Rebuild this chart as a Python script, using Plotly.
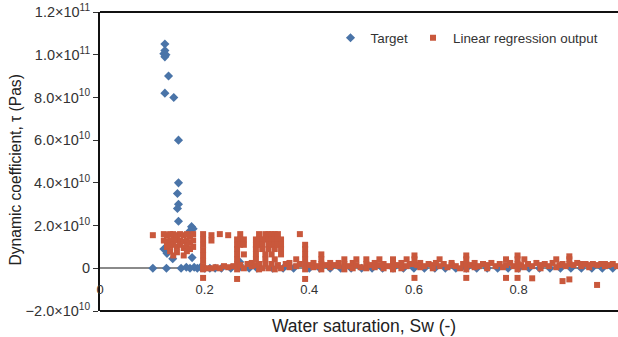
import plotly.graph_objects as go

SCALE = 1e10  # y values below are in units of 1e10 Pa s

# ---- Target (blue diamonds) ----
target_x = [0.124, 0.124, 0.122, 0.126, 0.124, 0.131, 0.124, 0.141, 0.150, 0.150, 0.148, 0.150, 0.148,
            0.150, 0.175, 0.172, 0.178, 0.122, 0.128, 0.139, 0.176,
            0.101, 0.127, 0.155, 0.165, 0.172, 0.180, 0.186, 0.192, 0.200, 0.210, 0.220, 0.232, 0.250,
            0.267, 0.267, 0.267, 0.285, 0.300, 0.330, 0.350, 0.370, 0.400, 0.420, 0.440, 0.460, 0.480,
            0.500, 0.520, 0.540, 0.560, 0.580, 0.600, 0.620, 0.640, 0.660, 0.680, 0.700, 0.720, 0.740,
            0.760, 0.780, 0.800, 0.820, 0.840, 0.860, 0.880, 0.900, 0.920, 0.940, 0.960, 0.980]
target_y = [10.5, 10.2, 10.05, 10.0, 9.9, 9.0, 8.2, 8.0, 6.0, 4.0, 3.5, 3.0, 2.8,
            2.2, 1.95, 1.75, 1.85, 0.9, 0.7, 0.45, 0.5,
            0.0, 0.0, 0.0, 0.05, 0.0, 0.05, 0.0, 0.05, 0.0, 0.0, 0.0, 0.0, 0.0,
            0.3, 0.15, 0.05, 0.0, 0.0, 0.0, 0.0, 0.0, 0.0, 0.0, 0.0, 0.0, 0.0,
            0.0, 0.0, 0.0, 0.0, 0.0, 0.0, 0.0, 0.0, 0.0, 0.0, 0.0, 0.0, 0.0,
            0.0, 0.0, 0.0, 0.0, 0.0, 0.0, 0.0, 0.0, 0.0, 0.0, 0.0, 0.0]

# ---- Linear regression output (red squares): (Sw, [tau values]) ----
pred_columns = [
    (0.101, [1.55]),
    (0.122, [1.6, 1.3]),
    (0.128, [1.55, 1.25, 1.0]),
    (0.134, [1.6, 1.3, 1.05, 0.8]),
    (0.140, [1.6, 1.35, 1.1, 0.6]),
    (0.147, [1.55, 1.3, 1.0, 0.75]),
    (0.153, [1.6, 1.3, 1.1]),
    (0.160, [1.55, 1.25, 0.95, 0.6]),
    (0.166, [1.6, 1.3, 1.05, 0.8]),
    (0.172, [1.5, 1.2, 0.9]),
    (0.178, [1.6, 1.3, 1.0]),
    (0.197, [1.6, 1.35, 1.1, 0.85, 0.6, 0.35, 0.1, -0.05, -0.45]),
    (0.205, [0.0]),
    (0.213, [1.55, 1.3, 0.0]),
    (0.221, [0.05]),
    (0.229, [1.6, 0.0]),
    (0.237, [0.1]),
    (0.245, [1.55, 0.05]),
    (0.255, [0.1]),
    (0.262, [1.35, 1.1, 0.9, 0.65, 0.42, 0.2, -0.05, -0.5]),
    (0.268, [1.6, 1.35, 1.1, 0.15]),
    (0.275, [1.35, 1.1, 0.65, 0.0]),
    (0.282, [0.2]),
    (0.290, [0.1, 0.25]),
    (0.298, [1.35, 1.1, 0.9, 0.65, 0.42, 0.15]),
    (0.304, [1.6, 1.35, 1.1, 0.2, -0.05]),
    (0.310, [1.35, 1.1, 0.9, 0.0]),
    (0.316, [1.6, 1.35, 0.65, 0.42, 0.2]),
    (0.322, [1.6, 1.35, 1.1, 0.9, 0.0]),
    (0.328, [1.6, 1.35, 1.1, 0.65, 0.2]),
    (0.334, [1.6, 1.35, 1.1, 0.9, 0.42, -0.05]),
    (0.340, [1.6, 1.35, 1.1, 0.15]),
    (0.346, [1.35, 1.1, 0.9, 0.65, 0.0]),
    (0.355, [0.2]),
    (0.362, [0.05, 0.25]),
    (0.375, [0.42, 0.1]),
    (0.382, [1.6, 0.2]),
    (0.392, [1.1, 0.9, 0.65, 0.42, 0.2, -0.05, -0.5]),
    (0.400, [0.15]),
    (0.408, [0.05, 0.25]),
    (0.416, [0.1]),
    (0.423, [0.65, 0.42, 0.2, -0.05]),
    (0.431, [0.15]),
    (0.440, [0.05, 0.25]),
    (0.448, [0.15]),
    (0.456, [0.1, 0.25]),
    (0.467, [0.42, 0.2, -0.05]),
    (0.475, [0.1]),
    (0.483, [0.25, 0.0]),
    (0.490, [0.42, 0.15]),
    (0.498, [0.05]),
    (0.509, [0.42, 0.2, 0.0]),
    (0.517, [0.15]),
    (0.525, [0.25, 0.05]),
    (0.534, [0.42, 0.15]),
    (0.542, [0.0, 0.2]),
    (0.550, [0.1]),
    (0.560, [0.42, 0.2, -0.05]),
    (0.568, [0.15]),
    (0.576, [0.25, 0.0]),
    (0.586, [0.42, 0.1]),
    (0.592, [0.2]),
    (0.601, [0.6, 0.42, 0.2, -0.45]),
    (0.606, [0.15]),
    (0.612, [0.05, 0.25]),
    (0.620, [0.1]),
    (0.628, [0.2]),
    (0.636, [0.0, 0.15]),
    (0.642, [0.25]),
    (0.649, [0.42, 0.1]),
    (0.657, [0.2]),
    (0.664, [0.05]),
    (0.672, [0.15, 0.25]),
    (0.680, [0.1]),
    (0.688, [0.0]),
    (0.694, [0.2]),
    (0.700, [0.6, 0.42, 0.2, -0.05, -0.45]),
    (0.708, [0.15]),
    (0.716, [0.05, 0.25]),
    (0.724, [0.1]),
    (0.732, [0.2]),
    (0.740, [0.0, 0.15]),
    (0.748, [0.25]),
    (0.756, [0.1]),
    (0.764, [0.2]),
    (0.770, [0.05]),
    (0.776, [0.42, 0.15, -0.45]),
    (0.784, [0.25]),
    (0.790, [0.1]),
    (0.798, [0.6, 0.42, 0.2, -0.05, -0.45]),
    (0.805, [0.15]),
    (0.811, [0.42, 0.05]),
    (0.818, [0.2]),
    (0.826, [0.1, -0.47]),
    (0.834, [0.25]),
    (0.842, [0.0, 0.15]),
    (0.850, [0.2]),
    (0.858, [0.1]),
    (0.865, [0.25]),
    (0.872, [0.42, 0.05]),
    (0.878, [0.15]),
    (0.884, [0.2, -0.6]),
    (0.890, [0.1]),
    (0.897, [0.56, 0.42, 0.2, -0.52]),
    (0.905, [0.15]),
    (0.912, [0.25]),
    (0.920, [0.1, 0.2]),
    (0.928, [0.2]),
    (0.935, [0.15, 0.05]),
    (0.942, [0.2]),
    (0.950, [0.15, -0.78]),
    (0.958, [0.2]),
    (0.965, [0.1, 0.2]),
    (0.972, [0.15]),
    (0.980, [0.2]),
    (0.988, [0.1]),
]

y_tickvals = [-2, 0, 2, 4, 6, 8, 10, 12]
y_ticktext = ["\u22122.0\u00d710<sup>10</sup>", "0", "2.0\u00d710<sup>10</sup>", "4.0\u00d710<sup>10</sup>",
              "6.0\u00d710<sup>10</sup>", "8.0\u00d710<sup>10</sup>", "1.0\u00d710<sup>11</sup>",
              "1.2\u00d710<sup>11</sup>"]
x_tickvals = [0, 0.2, 0.4, 0.6, 0.8]
x_ticktext = ["0", "0.2", "0.4", "0.6", "0.8"]

pred_x = [c[0] for c in pred_columns for _ in c[1]]
pred_y = [v for c in pred_columns for v in c[1]]

BLUE = "#4a74a8"
RED = "#c9583c"
FONT = "Liberation Sans, Arial, sans-serif"

fig = go.Figure()
fig.add_trace(go.Scatter(
    x=target_x, y=[v * SCALE for v in target_y], mode="markers", name="Target",
    marker=dict(symbol="diamond", size=7, color=BLUE, line=dict(width=0)),
    cliponaxis=True))
fig.add_trace(go.Scatter(
    x=pred_x, y=[v * SCALE for v in pred_y], mode="markers", name="Linear regression output",
    marker=dict(symbol="square", size=6, color=RED, line=dict(width=0)),
    cliponaxis=True))

y_min, y_max = -2 * SCALE, 12 * SCALE
zero_pos = (0 - y_min) / (y_max - y_min)

fig.update_layout(
    width=618, height=337,
    margin=dict(l=100, r=0, t=12, b=26, autoexpand=False),
    paper_bgcolor="white", plot_bgcolor="white",
    font=dict(family=FONT, size=12, color="#333"),
    showlegend=True,
    legend=dict(orientation="h", x=0.445, y=0.965, xanchor="left", yanchor="top",
                font=dict(size=13.4, color="#333"), itemwidth=30, bgcolor="rgba(0,0,0,0)",
                tracegroupgap=0),
    xaxis=dict(range=[0, 0.99], anchor="free", position=zero_pos, showline=False,
               showgrid=False, zeroline=False, ticks="", automargin=False,
               tickvals=x_tickvals, ticktext=x_ticktext, ticklabelstandoff=12,
               tickfont=dict(size=13, color="#333")),
    yaxis=dict(range=[y_min, y_max], showline=True, linecolor="#111", linewidth=2,
               ticks="outside", ticklen=5, tickcolor="#333", tickwidth=1, automargin=False,
               tickvals=[v * SCALE for v in y_tickvals], ticktext=y_ticktext,
               showgrid=False, zeroline=True, zerolinecolor="#8a8a8a", zerolinewidth=1.5,
               tickfont=dict(size=14.5, color="#333")),
    shapes=[
        dict(type="line", xref="paper", yref="paper", x0=0, x1=1, y0=1, y1=1,
             line=dict(color="#111", width=2)),
        dict(type="line", xref="paper", yref="paper", x0=0, x1=1, y0=0, y1=0,
             line=dict(color="#111", width=2)),
    ],
    annotations=[
        dict(text="Water saturation, Sw (-)", xref="paper", yref="paper", x=0.51, y=0,
             yshift=-15, xanchor="center", yanchor="middle", showarrow=False,
             font=dict(size=17.5, color="#222")),
        dict(text="Dynamic coefficient, \u03c4 (Pas)", xref="paper", yref="paper", x=0, y=0.47,
             xshift=-85, xanchor="center", yanchor="middle", textangle=-90, showarrow=False,
             font=dict(size=15.6, color="#222")),
    ],
)

fig.write_html("out.html", post_script="document.body.style.margin='0';",
               config={"displayModeBar": False})
